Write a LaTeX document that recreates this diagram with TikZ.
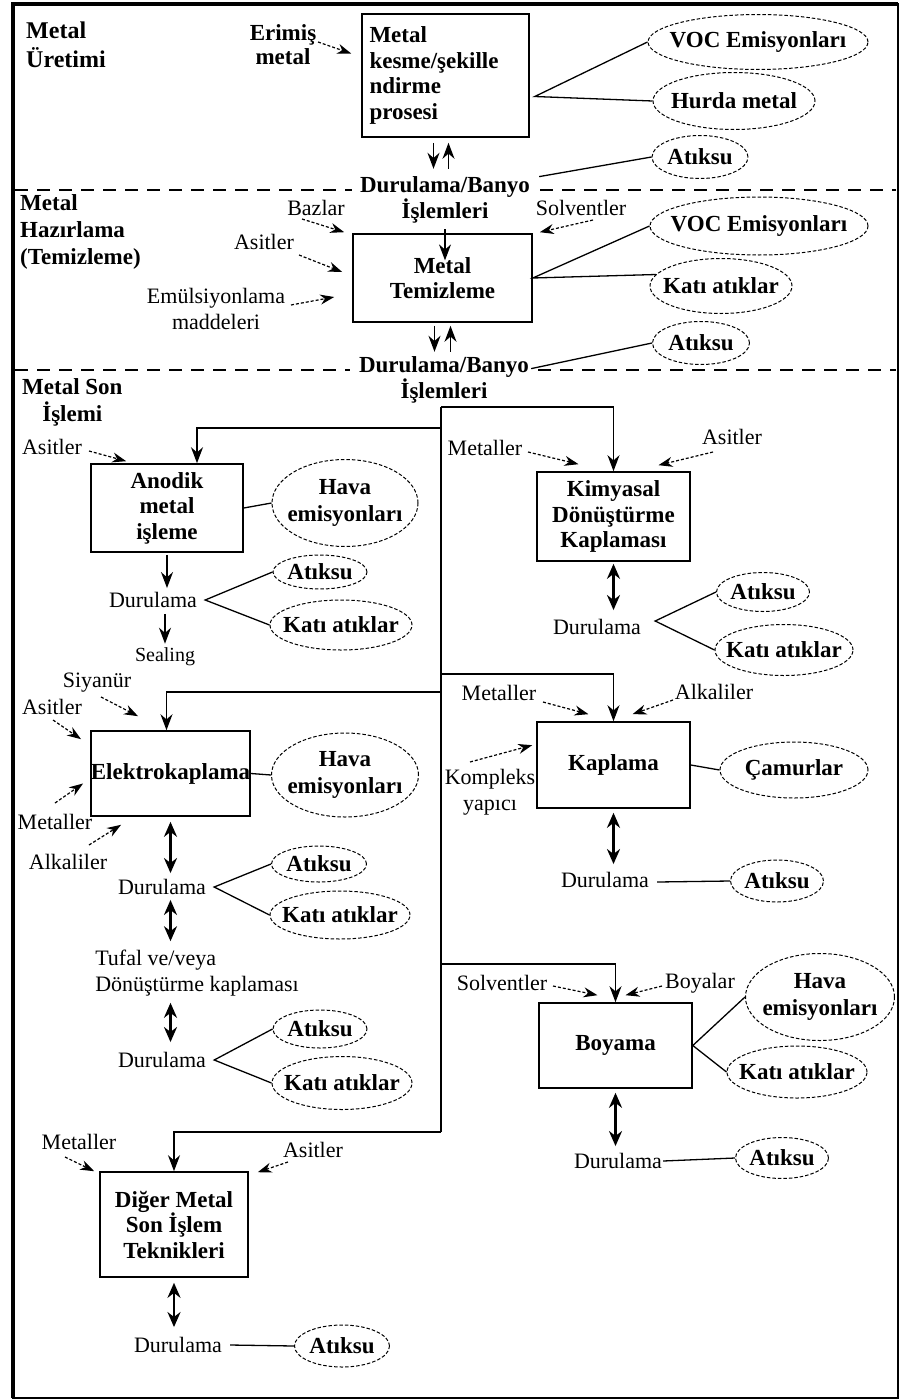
\documentclass[tikz,border=0pt]{standalone}
\usepackage{fontspec}
\setmainfont{Liberation Serif}
\usetikzlibrary{arrows.meta, shapes.geometric}

\begin{document}
\begin{tikzpicture}[x=1pt, y=-1pt,
    font=\fontsize{22}{26}\selectfont,
    proc/.style={draw, line width=1.6pt, align=center, inner sep=0pt, font=\fontsize{23}{25.5}\selectfont\bfseries},
    waste/.style={draw, dash pattern=on 3.5pt off 2pt, ellipse, line width=1pt, align=center, inner xsep=-40pt, inner ysep=-20pt, font=\fontsize{23}{27}\selectfont\bfseries},
    lbl/.style={inner sep=1pt, align=center},
    blbl/.style={lbl, inner sep=0pt, font=\fontsize{23}{24}\selectfont\bfseries},
    hdr/.style={inner sep=0pt, align=left, anchor=north west, font=\fontsize{23}{27}\selectfont\bfseries},
    flow/.style={line width=1.4pt, -{Stealth[length=16pt, width=12pt]}},
    dbl/.style={line width=2.4pt, {Stealth[length=15pt, width=13pt]}-{Stealth[length=15pt, width=13pt]}},
    feed/.style={line width=1.2pt, densely dashed, -{Stealth[length=14pt, width=10pt]}},
    wire/.style={line width=1.3pt},
    sec/.style={line width=1.4pt, dash pattern=on 13pt off 9pt}]
  \useasboundingbox (0,0) rectangle (900,1400);
  \draw[line width=2pt] (13,4) rectangle (898,1398);
  \draw[line width=4pt] (13,1398) -- (13,4) -- (898,4);
  \draw[sec] (15,190) -- (352,190);
  \draw[sec] (540,190) -- (896,190);
  \draw[sec] (15,370) -- (350,370);
  \draw[sec] (538,370) -- (896,370);

  \node[hdr, font=\fontsize{24}{29}\selectfont\bfseries] (s1) at (26,22) {Metal\\Üretimi};
  \node[hdr] (s2) at (20,194) {Metal\\Hazırlama\\(Temizleme)};
  \node[hdr, align=center] (s3) at (22,378) {Metal Son\\İşlemi};

  \node[proc, minimum width=167pt, minimum height=123pt, text width=152pt, align=left] (kesme) at (445.5,75.5) {Metal\\kesme/şekille\\ndirme\\prosesi};
  \node[blbl] (erimis) at (283,45) {Erimiş\\metal};
  \node[waste, minimum width=220pt, minimum height=55pt] (voc1) at (758,42) {VOC Emisyonları};
  \node[waste, minimum width=162pt, minimum height=57pt] (hurda) at (734,101) {Hurda metal};
  \node[waste, minimum width=96pt, minimum height=43pt] (atik1) at (700,157) {Atıksu};
  \node[blbl] (rb1) at (445,200) {Durulama/Banyo\\İşlemleri};
  \draw[feed] ([shift={(35,-3)}]erimis.center) -- ([shift={(-10,-22)}]kesme.west);
  \coordinate (j1) at ([shift={(5,21)}]kesme.east);
  \draw[wire] (voc1.west) -- (j1) -- (hurda.west);
  \draw[wire] ([shift={(9,0)}]rb1.north east) -- (atik1.west);
  \draw[flow] ([shift={(-12,5)}]kesme.south) -- ++(0,26);
  \draw[flow] ([shift={(3,31)}]kesme.south) -- ++(0,-26);

  \node[proc, minimum width=179pt, minimum height=88pt] (temiz) at (442.5,278) {Metal\\Temizleme};
  \node[lbl] (bazlar) at (316,208) {Bazlar};
  \node[lbl] (asitT) at (264,242) {Asitler};
  \node[lbl] (emuls) at (216,309) {Emülsiyonlama\\maddeleri};
  \node[lbl] (solvT) at (581,208) {Solventler};
  \node[waste, minimum width=218pt, minimum height=58pt] (voc2) at (759,226) {VOC Emisyonları};
  \node[waste, minimum width=142pt, minimum height=55pt] (katiT) at (721,286) {Katı atıklar};
  \node[waste, minimum width=97pt, minimum height=43pt] (atik2) at (701,343) {Atıksu};
  \node[blbl] (rb2) at (444,380) {Durulama/Banyo\\İşlemleri};
  \draw[flow] ([shift={(0,6)}]rb1.south) -- ++(0,31);
  \draw[feed] ([shift={(-14,11)}]bazlar.center) -- ([shift={(-8,-1)}]temiz.north west);
  \draw[feed] ([shift={(35,13)}]asitT.center) -- ([shift={(-10,-6)}]temiz.west);
  \draw[feed] ([shift={(75,-4)}]emuls.center) -- ([shift={(-18,19)}]temiz.west);
  \draw[feed] ([shift={(12,12)}]solvT.center) -- ([shift={(7,-1)}]temiz.north east);
  \draw[wire] (voc2.west) -- (temiz.east) -- (katiT.170);
  \draw[wire] ([shift={(2,12)}]rb2.north east) -- (atik2.west);
  \draw[flow] ([shift={(-8,3)}]temiz.south) -- ++(0,26);
  \draw[flow] ([shift={(8,29)}]temiz.south) -- ++(0,-26);

  \node[proc, minimum width=152pt, minimum height=88pt] (anodik) at (167,508) {Anodik\\metal\\işleme};
  \node[waste, minimum width=146pt, minimum height=87pt] (havaA) at (345,503) {Hava\\emisyonları};
  \node[lbl] (asitA) at (52,447) {Asitler};
  \node[lbl] (durA) at (153,600) {Durulama};
  \node[waste, minimum width=94pt, minimum height=34pt] (atikA) at (320,572) {Atıksu};
  \node[waste, minimum width=142pt, minimum height=50pt] (katiA) at (341,625) {Katı atıklar};
  \node[lbl, font=\fontsize{20}{24}\selectfont] (seal) at (165,657) {Sealing};
  \draw[feed] ([shift={(37,4)}]asitA.center) -- ([shift={(36,-2)}]anodik.north west);
  \draw[wire] (anodik.east) -- (havaA.west);
  \draw[flow, shorten <=2pt, shorten >=3pt] (anodik.south) -- (anodik.south |- durA.north);
  \coordinate (jA) at ([shift={(7,0)}]durA.east);
  \draw[wire] (atikA.west) -- (jA) -- (katiA.west);
  \draw[flow, shorten <=5pt, shorten >=3pt] (seal.north |- durA.south) -- (seal.north);

  \node[proc, minimum width=153pt, minimum height=89pt] (kimya) at (613.5,516.5) {Kimyasal\\Dönüştürme\\Kaplaması};
  \node[lbl] (metK) at (485,448) {Metaller};
  \node[lbl] (asitK) at (732,437) {Asitler};
  \node[lbl] (durK) at (597,627) {Durulama};
  \node[waste, minimum width=93pt, minimum height=39pt] (atikK) at (763,592) {Atıksu};
  \node[waste, minimum width=138pt, minimum height=51pt] (katiK) at (784,650) {Katı atıklar};
  \draw[feed] ([shift={(43,4)}]metK.center) -- ([shift={(-35,-7)}]kimya.north);
  \draw[feed] ([shift={(-19,15)}]asitK.center) -- ([shift={(45,-6)}]kimya.north);
  \draw[dbl, shorten <=2pt, shorten >=8pt] (kimya.south) -- (kimya.south |- durK.north);
  \coordinate (jK) at ([shift={(13,-6)}]durK.east);
  \draw[wire] (atikK.west) -- (jK) -- (katiK.west);

  \node[proc, minimum width=157pt, minimum height=85pt] (elektro) at (170.5,773.5) {Elektrokaplama};
  \node[waste, minimum width=147pt, minimum height=84pt] (havaE) at (345,775) {Hava\\emisyonları};
  \node[lbl] (siyan) at (97,683) {Siyanür};
  \node[lbl] (asitE) at (52,707) {Asitler};
  \node[lbl] (metE) at (55,822) {Metaller};
  \node[lbl] (alkE) at (68,862) {Alkaliler};
  \node[lbl] (durE1) at (162,887) {Durulama};
  \node[waste, minimum width=95pt, minimum height=36pt] (atikE1) at (319,864) {Atıksu};
  \node[waste, minimum width=140pt, minimum height=48pt] (katiE1) at (340,915) {Katı atıklar};
  \node[lbl, align=left] (tufal) at (197,973.5) {Tufal ve/veya\\Dönüştürme kaplaması};
  \node[lbl] (durE2) at (162,1060) {Durulama};
  \node[waste, minimum width=94pt, minimum height=38pt] (atikE2) at (320,1029) {Atıksu};
  \node[waste, minimum width=140pt, minimum height=53pt] (katiE2) at (342,1083) {Katı atıklar};
  \draw[feed] ([shift={(4,14)}]siyan.center) -- ([shift={(48,-14)}]elektro.north west);
  \draw[feed] ([shift={(1,13)}]asitE.center) -- ([shift={(-9,9)}]elektro.north west);
  \draw[feed] ([shift={(0,-19)}]metE.center) -- ([shift={(-7,10)}]elektro.west);
  \draw[feed] ([shift={(21,-17)}]alkE.center) -- ([shift={(31,8)}]elektro.south west);
  \draw[wire] (elektro.east) -- (havaE.west);
  \draw[dbl, shorten <=5pt, shorten >=5pt] (elektro.south) -- (elektro.south |- durE1.north);
  \coordinate (jE1) at ([shift={(7,0)}]durE1.east);
  \draw[wire] (atikE1.west) -- (jE1) -- (katiE1.west);
  \draw[dbl, shorten <=4pt, shorten >=8pt] (elektro.south |- durE1.south) -- (elektro.south |- tufal.north);
  \draw[dbl, shorten <=5pt, shorten >=9pt] (elektro.south |- tufal.south) -- (elektro.south |- durE2.north);
  \coordinate (jE2) at ([shift={(7,0)}]durE2.east);
  \draw[wire] (atikE2.west) -- (jE2) -- (katiE2.west);

  \node[proc, minimum width=153pt, minimum height=86pt] (kaplama) at (613.5,765) {Kaplama};
  \node[waste, minimum width=148pt, minimum height=56pt] (camur) at (794,770) {Çamurlar};
  \node[lbl] (metKp) at (499,693) {Metaller};
  \node[lbl] (alkKp) at (714,692) {Alkaliler};
  \node[lbl] (komp) at (490,792) {Kompleks\\yapıcı};
  \node[lbl] (durKp) at (605,880) {Durulama};
  \node[waste, minimum width=93pt, minimum height=42pt] (atikKp) at (777,881) {Atıksu};
  \draw[feed] ([shift={(44,9)}]metKp.center) -- ([shift={(-25,-7)}]kaplama.north);
  \draw[feed] ([shift={(-41,8)}]alkKp.center) -- ([shift={(19,-7)}]kaplama.north);
  \draw[feed] ([shift={(-20,-30)}]komp.center) -- ([shift={(-4,24)}]kaplama.north west);
  \draw[wire] (kaplama.east) -- (camur.west);
  \draw[dbl, shorten <=4pt, shorten >=7pt] (kaplama.south) -- (kaplama.south |- durKp.north);
  \draw[wire] ([shift={(7,2)}]durKp.east) -- (atikKp.west);

  \node[proc, minimum width=153pt, minimum height=85pt] (boyama) at (615.5,1045.5) {Boyama};
  \node[waste, minimum width=149pt, minimum height=87pt] (havaB) at (820,997) {Hava\\emisyonları};
  \node[waste, minimum width=140pt, minimum height=52pt] (katiB) at (797,1072) {Katı atıklar};
  \node[lbl] (solvB) at (502,983) {Solventler};
  \node[lbl] (boyalar) at (700,983) {Boyalar};
  \node[lbl] (durB) at (618,1161) {Durulama};
  \node[waste, minimum width=93pt, minimum height=41pt] (atikB) at (782,1158) {Atıksu};
  \draw[feed] ([shift={(51,3)}]solvB.center) -- ([shift={(-18,-7)}]boyama.north);
  \draw[feed] ([shift={(-38,3)}]boyalar.center) -- ([shift={(10,-7)}]boyama.north);
  \draw[wire] (havaB.west) -- (boyama.east) -- (katiB.west);
  \draw[dbl, shorten <=4pt, shorten >=6pt] (boyama.south) -- (boyama.south |- durB.north);
  \draw[wire] (durB.east) -- (atikB.west);

  \node[proc, minimum width=148pt, minimum height=105pt] (diger) at (174,1224.5) {Diğer Metal\\Son İşlem\\Teknikleri};
  \node[lbl] (metD) at (79,1142) {Metaller};
  \node[lbl] (asitD) at (313,1150) {Asitler};
  \node[lbl] (durD) at (178,1345) {Durulama};
  \node[waste, minimum width=95pt, minimum height=42pt] (atikD) at (342,1346) {Atıksu};
  \draw[feed] ([shift={(-14,15)}]metD.center) -- ([shift={(-5,0)}]diger.north west);
  \draw[feed] ([shift={(-25,12)}]asitD.center) -- ([shift={(9,1)}]diger.north east);
  \draw[dbl, shorten <=5pt, shorten >=9pt] (diger.south) -- (diger.south |- durD.north);
  \draw[wire] ([shift={(7,0)}]durD.east) -- (atikD.west);

  \coordinate (t0) at (441,407);
  \coordinate (t1) at (441,1132);
  \coordinate (bA) at (441,428);
  \coordinate (bK) at (441,674);
  \coordinate (bE) at (441,692);
  \coordinate (bB) at (441,964);
  \draw[wire] (t0) -- (t1);
  \draw[flow] (t0) -| (kimya.north);
  \draw[flow] (bA) -| ([shift={(30,0)}]anodik.north);
  \draw[flow] (bK) -| (kaplama.north);
  \draw[flow] (bE) -| ([shift={(-4,0)}]elektro.north);
  \draw[flow] (bB) -| (boyama.north);
  \draw[flow] (t1) -| (diger.north);
\end{tikzpicture}
\end{document}
